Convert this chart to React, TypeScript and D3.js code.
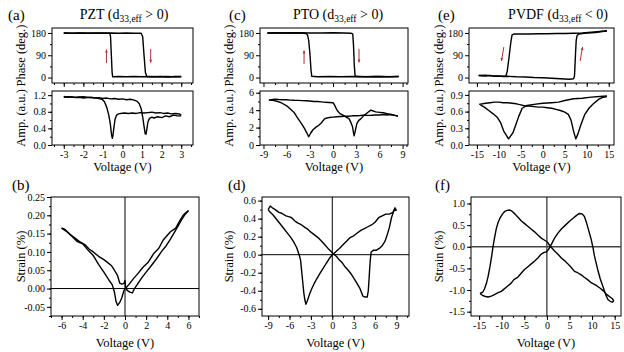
import { useEffect, useRef } from "react";
import * as d3 from "d3";

type Pt = [number, number];

// ---- PZT (a, b) ----
const pztPhaseFwd: Pt[] = [[-3,180],[-2.6,179],[-2.2,180],[-1.8,179],[-1.4,180],[-1,179],[-0.6,180],[-0.2,179],[0.2,180],[0.6,179],[0.95,179],[1.03,165],[1.1,90],[1.17,20],[1.24,4],[1.5,3],[1.9,4],[2.3,2],[2.7,4],[3,3]];
const pztPhaseRev: Pt[] = [[3,4],[2.6,3],[2.2,4],[1.8,3],[1.4,4],[1,3],[0.6,4],[0.2,3],[-0.2,4],[-0.5,3],[-0.53,20],[-0.57,90],[-0.61,165],[-0.65,179],[-1,180],[-1.5,179],[-2,180],[-2.5,179],[-3,180]];
const pztAmpFwd: Pt[] = [[-3,1.17],[-2.8,1.15],[-2.6,1.16],[-2.4,1.14],[-2.2,1.15],[-2,1.13],[-1.8,1.14],[-1.6,1.15],[-1.4,1.13],[-1.2,1.14],[-1,1.12],[-0.8,1.13],[-0.6,1.11],[-0.4,1.12],[-0.2,1.1],[0,1.11],[0.2,1.09],[0.4,1.1],[0.6,1.08],[0.75,1.05],[0.85,1.0],[0.95,0.88],[1.03,0.68],[1.1,0.45],[1.16,0.27],[1.2,0.26],[1.25,0.4],[1.3,0.56],[1.38,0.64],[1.5,0.67],[1.6,0.65],[1.8,0.68],[2,0.66],[2.2,0.7],[2.4,0.68],[2.6,0.72],[2.8,0.7],[3,0.7]];
const pztAmpRev: Pt[] = [[3,0.72],[2.9,0.75],[2.7,0.76],[2.5,0.75],[2.3,0.77],[2.1,0.76],[1.9,0.78],[1.7,0.77],[1.5,0.79],[1.3,0.78],[1.1,0.77],[0.9,0.78],[0.7,0.76],[0.5,0.77],[0.3,0.76],[0.1,0.77],[-0.1,0.76],[-0.2,0.75],[-0.3,0.72],[-0.38,0.62],[-0.44,0.42],[-0.49,0.22],[-0.52,0.16],[-0.56,0.25],[-0.62,0.5],[-0.7,0.72],[-0.8,0.9],[-0.92,1.04],[-1.05,1.1],[-1.3,1.13],[-1.6,1.14],[-2,1.16],[-2.4,1.15],[-2.8,1.16],[-3,1.15]];
const pztStrainInc: Pt[] = [[-6,0.165],[-5.7,0.162],[-5.2,0.148],[-4.7,0.137],[-4.3,0.128],[-3.8,0.12],[-3.4,0.108],[-3,0.1],[-2.5,0.088],[-2,0.079],[-1.6,0.07],[-1.3,0.063],[-1,0.05],[-0.7,0.035],[-0.5,0.015],[-0.3,0.012],[-0.1,0.014],[0,0.022],[0.05,0.005],[0.2,-0.005],[0.45,-0.01],[0.7,-0.012],[0.9,0],[1.2,0.013],[1.6,0.03],[2,0.045],[2.5,0.063],[3,0.082],[3.5,0.103],[3.9,0.117],[4.3,0.135],[4.7,0.155],[5,0.17],[5.4,0.19],[5.7,0.203],[6,0.213]];
const pztStrainDec: Pt[] = [[6,0.212],[5.8,0.208],[5.5,0.2],[5.2,0.186],[4.8,0.165],[4.3,0.155],[3.9,0.142],[3.6,0.132],[3.2,0.11],[2.7,0.095],[2.2,0.072],[1.7,0.058],[1.2,0.04],[0.8,0.027],[0.4,0.012],[0.1,0.002],[-0.1,-0.005],[-0.3,-0.025],[-0.5,-0.038],[-0.7,-0.046],[-0.85,-0.035],[-1,-0.01],[-1.2,0.01],[-1.5,0.022],[-2,0.045],[-2.5,0.066],[-3,0.09],[-3.5,0.105],[-4,0.122],[-4.5,0.128],[-5,0.142],[-5.5,0.155],[-6,0.165]];

// ---- PTO (c, d) ----
const ptoPhaseFwd: Pt[] = [[-8.5,180],[-7.5,181],[-6,180],[-4.5,181],[-3,180],[-1.5,180],[0,181],[1.5,180],[2.3,179],[2.55,176],[2.65,130],[2.75,50],[2.85,8],[3.1,4],[4.5,3],[6,4],[7.5,3],[8.5,4]];
const ptoPhaseRev: Pt[] = [[8.5,4],[7,3],[5.5,4],[4,3],[2.5,4],[1,3],[-0.5,4],[-2,3],[-2.75,5],[-2.85,30],[-3.0,100],[-3.15,150],[-3.3,172],[-3.5,178],[-4,180],[-5.5,181],[-7,180],[-8.5,180]];
const ptoAmpFwd: Pt[] = [[-8.3,5.15],[-8,5.2],[-7.5,5.25],[-7,5.22],[-6.5,5.2],[-6,5.2],[-5.5,5.15],[-5,5.13],[-4.5,5.12],[-4,5.1],[-3.5,5.08],[-3,5.05],[-2.5,5.0],[-2,5.0],[-1.5,4.95],[-1,4.9],[-0.5,4.88],[0,4.85],[0.16,4.65],[0.4,4.2],[0.6,3.9],[0.9,3.6],[1.23,3.45],[1.6,3.25],[2.09,3.0],[2.3,2.6],[2.52,2.1],[2.65,1.4],[2.73,1.05],[2.85,1.5],[3.08,2.45],[3.3,2.8],[3.59,3.0],[4,3.4],[4.45,3.7],[4.88,4.0],[5.2,3.9],[5.52,3.8],[6,3.75],[6.5,3.7],[7,3.6],[7.5,3.5],[8,3.4],[8.4,3.3]];
const ptoAmpRev: Pt[] = [[8.4,3.35],[8,3.4],[7.5,3.5],[7,3.45],[6.5,3.5],[6,3.45],[5.5,3.45],[5,3.42],[4.5,3.4],[4,3.42],[3.5,3.38],[3,3.35],[2.5,3.35],[2,3.3],[1.5,3.3],[1,3.28],[0.5,3.25],[0,3.2],[-0.5,3.15],[-0.8,3.1],[-1.1,3.0],[-1.5,2.55],[-1.8,2.3],[-2.2,2.05],[-2.6,1.75],[-2.9,1.35],[-3.15,0.95],[-3.4,1.4],[-3.7,1.9],[-4,2.35],[-4.35,2.8],[-4.7,3.25],[-5,3.7],[-5.5,4.1],[-6,4.5],[-6.7,4.85],[-7.2,5.0],[-7.6,5.1],[-8,5.15],[-8.3,5.15]];
const ptoStrainInc: Pt[] = [[-9,0.5],[-8.7,0.54],[-8.4,0.52],[-8,0.5],[-7.5,0.47],[-7.1,0.46],[-6.5,0.43],[-6,0.42],[-5.7,0.41],[-5.2,0.37],[-4.8,0.35],[-4.3,0.33],[-3.8,0.3],[-3.4,0.28],[-3,0.25],[-2.5,0.22],[-2,0.19],[-1.5,0.15],[-1.05,0.11],[-0.6,0.07],[-0.1,0.03],[0.3,0],[0.6,-0.02],[1,-0.06],[1.4,-0.09],[1.75,-0.13],[2.2,-0.17],[2.7,-0.22],[3.1,-0.27],[3.4,-0.31],[3.85,-0.37],[4.1,-0.42],[4.3,-0.46],[4.6,-0.47],[4.9,-0.47],[5.05,-0.4],[5.15,-0.28],[5.25,-0.15],[5.35,-0.04],[5.45,0.03],[5.8,0.05],[6.2,0.05],[6.6,0.07],[7,0.1],[7.4,0.15],[7.7,0.22],[8,0.3],[8.3,0.41],[8.6,0.48],[8.8,0.52],[9,0.49]];
const ptoStrainDec: Pt[] = [[9,0.49],[8.7,0.5],[8.5,0.47],[8,0.45],[7.5,0.45],[7,0.43],[6.5,0.41],[6,0.36],[5.5,0.33],[5,0.31],[4.5,0.29],[4,0.27],[3.5,0.24],[3,0.21],[2.5,0.19],[2,0.15],[1.5,0.11],[1,0.07],[0.6,0.04],[0.2,0.01],[0,0],[-0.4,-0.04],[-0.8,-0.09],[-1.2,-0.14],[-1.75,-0.21],[-2.2,-0.27],[-2.6,-0.33],[-2.9,-0.38],[-3.2,-0.44],[-3.5,-0.51],[-3.7,-0.55],[-3.85,-0.5],[-4,-0.42],[-4.15,-0.3],[-4.3,-0.18],[-4.45,-0.06],[-4.65,0],[-5,0.08],[-5.4,0.14],[-5.8,0.19],[-6.3,0.24],[-6.8,0.29],[-7.3,0.34],[-7.8,0.39],[-8.3,0.44],[-8.7,0.47],[-9,0.5]];

// ---- PVDF (e, f) ----
const pvdfPhaseFwd: Pt[] = [[-14.6,8],[-13,6],[-12,9],[-11,5],[-10,6],[-9,4],[-8,5],[-6,3],[-4,2],[-2,0],[0,-1],[2,-3],[4,-5],[6,-7],[7,-5],[7.2,5],[7.3,40],[7.45,100],[7.6,150],[7.8,170],[8.2,176],[9,178],[10,180],[11,181],[12,182],[13,185],[14,187],[14.6,188]];
const pvdfPhaseRev: Pt[] = [[14.6,189],[13,186],[11,183],[9,180],[7,179],[5,178],[3,178],[1,177],[-1,177],[-3,176],[-5,176],[-6.5,176],[-7,172],[-7.3,140],[-7.7,80],[-8.1,25],[-8.4,6],[-9,5],[-10,5],[-12,7],[-13,9],[-14.6,8]];
const pvdfAmpFwd: Pt[] = [[-14.5,0.73],[-13,0.75],[-12,0.76],[-11,0.77],[-10,0.77],[-9,0.76],[-8,0.76],[-7,0.75],[-6,0.74],[-5,0.72],[-4,0.7],[-3,0.7],[-2,0.69],[-1,0.68],[0,0.68],[1,0.67],[2,0.66],[3,0.64],[4,0.62],[5,0.59],[5.8,0.55],[6.4,0.45],[7,0.25],[7.5,0.11],[8,0.2],[8.6,0.35],[9.5,0.54],[10.5,0.66],[11.5,0.74],[12.7,0.82],[13.5,0.85],[14.6,0.87]];
const pvdfAmpRev: Pt[] = [[14.6,0.88],[13,0.87],[11,0.86],[9,0.84],[7,0.83],[5,0.8],[3.6,0.77],[2,0.76],[0,0.75],[-2,0.73],[-3.6,0.71],[-4.7,0.66],[-5.5,0.51],[-6.2,0.35],[-6.8,0.22],[-7.8,0.11],[-8.9,0.25],[-9.6,0.4],[-10.4,0.5],[-11.3,0.56],[-12.3,0.62],[-13.3,0.68],[-14.2,0.72]];
const pvdfStrainInc: Pt[] = [[-14.8,-1.08],[-14.3,-1.12],[-13.6,-1.15],[-13,-1.16],[-12.3,-1.14],[-11.5,-1.1],[-10.8,-1.06],[-10.1,-1.03],[-9.5,-0.98],[-8.8,-0.92],[-7.9,-0.84],[-7.3,-0.76],[-6.4,-0.7],[-5.6,-0.6],[-4.9,-0.52],[-4.2,-0.46],[-3.4,-0.39],[-2.7,-0.33],[-2,-0.26],[-1.25,-0.17],[-0.6,-0.13],[-0.15,-0.12],[0.3,-0.07],[0.6,-0.02],[1.1,0.08],[1.7,0.2],[2.4,0.31],[3.2,0.41],[4.1,0.5],[5,0.59],[5.8,0.66],[6.5,0.72],[7.2,0.77],[7.8,0.76],[8.3,0.7],[8.7,0.58],[9,0.47],[9.4,0.32],[9.8,0.17],[10.2,-0.02],[10.5,-0.2],[10.9,-0.38],[11.25,-0.53],[11.8,-0.74],[12.4,-0.92],[13,-1.1],[13.5,-1.22],[14,-1.26],[14.5,-1.28],[14.8,-1.25]];
const pvdfStrainDec: Pt[] = [[14.8,-1.25],[14.5,-1.2],[14,-1.16],[13.2,-1.1],[12.5,-1.02],[11.8,-0.96],[11,-0.9],[10.3,-0.86],[9.8,-0.83],[9,-0.76],[8.2,-0.7],[7.6,-0.65],[6.8,-0.6],[6.1,-0.57],[5.4,-0.48],[4.6,-0.39],[3.9,-0.32],[3.2,-0.26],[2.5,-0.18],[1.7,-0.1],[1.1,-0.03],[0.6,0.03],[0.1,0.11],[-0.5,0.15],[-1.25,0.2],[-2,0.27],[-2.8,0.35],[-3.5,0.41],[-4.3,0.48],[-5,0.54],[-5.7,0.6],[-6.4,0.68],[-7.1,0.76],[-7.6,0.81],[-8.2,0.85],[-8.8,0.84],[-9.3,0.82],[-9.8,0.76],[-10.4,0.66],[-10.8,0.56],[-11.2,0.42],[-11.6,0.2],[-11.9,0.02],[-12.2,-0.2],[-12.6,-0.46],[-13,-0.68],[-13.4,-0.85],[-13.8,-0.97],[-14.2,-1.05],[-14.8,-1.08]];

// switching arrows: [voltage, from phase, to phase]
const pztArrows: [number, number, number][] = [[-0.82, 58, 113], [1.44, 115, 60]];
const ptoArrows: [number, number, number][] = [[-3.75, 55, 109], [3.36, 116, 61]];
const pvdfArrows: [number, number, number][] = [[-9.15, 123, 67], [8.77, 67, 123]];

const titles = ["PZT", "PTO", "PVDF"];
const signs = ["> 0)", "> 0)", "< 0)"];

const FONT = "Liberation Serif, Times New Roman, serif";

const range = (a: number, b: number, s: number) => d3.range(a, b + s / 2, s).map((v) => +v.toFixed(4));

export default function App() {
  const svgRef = useRef<SVGSVGElement | null>(null);

  useEffect(() => {
    const svg = d3.select(svgRef.current);
    svg.selectAll("*").remove();
    svg.append("rect").attr("width", 624).attr("height", 352).attr("fill", "#fff");

    const line = (x: any, y: any) => d3.line<Pt>().x((d) => x(d[0])).y((d) => y(d[1]));

    function frame(x: any, y: any, o: any) {
      const [xl, xr] = x.range();
      const [yb, yt] = y.range();
      const g = svg.append("g");
      const add = (ax: any, t: string) => {
        const a = g.append("g").attr("transform", t).call(ax);
        a.select(".domain").remove();
        a.attr("font-family", null).attr("font-size", null).style("font-size", "10px");
        a.selectAll("line").attr("stroke", "#000");
        a.selectAll("text").attr("fill", "#000");
      };
      add(d3.axisBottom(x).tickValues(o.xMinor).tickSize(2).tickSizeOuter(0).tickFormat(() => ""), `translate(0,${yb})`);
      add(d3.axisBottom(x).tickValues(o.xMajor).tickSize(4).tickSizeOuter(0).tickPadding(1.5)
        .tickFormat(o.xFmt ? o.xFmt : () => ""), `translate(0,${yb})`);
      add(d3.axisLeft(y).tickValues(o.yMinor).tickSize(2).tickSizeOuter(0).tickFormat(() => ""), `translate(${xl},0)`);
      add(d3.axisLeft(y).tickValues(o.yMajor).tickSize(4).tickSizeOuter(0).tickPadding(2).tickFormat(o.yFmt), `translate(${xl},0)`);
      g.append("rect").attr("x", xl).attr("y", yt).attr("width", xr - xl).attr("height", yb - yt)
        .attr("fill", "none").attr("stroke", "#000").attr("stroke-width", 1);
      const cy = (yb + yt) / 2;
      g.append("text").attr("transform", `translate(${o.labelX},${cy}) rotate(-90)`)
        .attr("text-anchor", "middle").style("font-size", "12.5px").text(o.yLabel);
      if (o.xLabelY) {
        g.append("text").attr("x", (xl + xr) / 2).attr("y", o.xLabelY).attr("text-anchor", "middle")
          .style("font-size", "12.5px").text("Voltage (V)");
      }
    }

    function curves(x: any, y: any, sets: Pt[][]) {
      sets.forEach((s) => {
        svg.append("path").datum(s).attr("d", line(x, y)).attr("fill", "none")
          .attr("stroke", "#000").attr("stroke-width", 1.4).attr("stroke-linejoin", "round");
      });
    }

    function arrows(x: any, y: any, list: [number, number, number][], tilt: number) {
      list.forEach(([v, a, b]) => {
        const x1 = x(v) - (b > a ? tilt : -tilt), x2 = x(v) + (b > a ? tilt : -tilt);
        const y1 = y(a), y2 = y(b);
        const ang = Math.atan2(y2 - y1, x2 - x1);
        svg.append("line").attr("x1", x1).attr("y1", y1).attr("x2", x2).attr("y2", y2)
          .attr("stroke", "#b03030").attr("stroke-width", 1);
        const h = 3.2;
        const p = [[x2, y2], [x2 - h * Math.cos(ang - 0.45), y2 - h * Math.sin(ang - 0.45)],
          [x2 - h * Math.cos(ang + 0.45), y2 - h * Math.sin(ang + 0.45)]];
        svg.append("path").attr("d", "M" + p.map((q) => q.join(",")).join("L") + "Z").attr("fill", "#b03030");
      });
    }

    const phaseY: [number, number] = [83, 28];
    const ampY: [number, number] = [145, 91];
    const strainY: [number, number] = [316, 197];

    const cols = [
      {
        box: [52, 193], xd: [-3.6, 3.6], xMaj: range(-3, 3, 1), xMin: range(-3.5, 3.5, 0.5), fmt0: (d: number) => String(d),
        amp: [pztAmpFwd, pztAmpRev], ampD: [0, 1.3], ampMaj: range(0, 1.2, 0.4), ampMin: range(0, 1.2, 0.2), ampFmt: (d: number) => d.toFixed(1),
        phase: [pztPhaseFwd, pztPhaseRev], arrows: pztArrows, tilt: 0,
        bBox: [51, 199], bxd: [-7, 7], bxMaj: range(-6, 6, 2), bxMin: range(-7, 7, 1),
        strain: [pztStrainInc, pztStrainDec], sd: [-0.075, 0.25], sMaj: range(-0.05, 0.25, 0.05), sMin: range(-0.075, 0.25, 0.025), sFmt: (d: number) => d.toFixed(2),
        lx: 25, title: 124, letters: ["(a)", "(b)"], lxT: 8, lxB: 12,
      },
      {
        box: [260, 408], xd: [-9.45, 9.7], xMaj: range(-9, 9, 3), xMin: range(-7.5, 7.5, 3).concat([9.5]), fmt0: (d: number) => String(d),
        amp: [ptoAmpFwd, ptoAmpRev], ampD: [0, 6.2], ampMaj: range(0, 6, 2), ampMin: range(0, 6, 1), ampFmt: (d: number) => String(d),
        phase: [ptoPhaseFwd, ptoPhaseRev], arrows: ptoArrows, tilt: 0,
        bBox: [262, 409], bxd: [-9.86, 10.76], bxMaj: range(-9, 9, 3), bxMin: range(-9, 10.5, 1.5),
        strain: [ptoStrainInc, ptoStrainDec], sd: [-0.68, 0.64], sMaj: range(-0.6, 0.6, 0.2), sMin: range(-0.6, 0.6, 0.1), sFmt: (d: number) => d.toFixed(1),
        lx: 233, title: 338, letters: ["(c)", "(d)"], lxT: 229, lxB: 228,
      },
      {
        box: [469, 614], xd: [-16.8, 16.2], xMaj: range(-15, 15, 5), xMin: range(-15, 15, 2.5), fmt0: (d: number) => String(d),
        amp: [pvdfAmpFwd, pvdfAmpRev], ampD: [0, 0.97], ampMaj: range(0, 0.9, 0.3), ampMin: range(0, 0.9, 0.15), ampFmt: (d: number) => d.toFixed(1),
        phase: [pvdfPhaseFwd, pvdfPhaseRev], arrows: pvdfArrows, tilt: 1.2,
        bBox: [471, 621], bxd: [-16.8, 16.4], bxMaj: range(-15, 15, 5), bxMin: range(-15, 15, 2.5),
        strain: [pvdfStrainInc, pvdfStrainDec], sd: [-1.6, 1.15], sMaj: range(-1.5, 1, 0.5), sMin: range(-1.5, 1, 0.25), sFmt: (d: number) => d.toFixed(1),
        lx: 443, title: 558, letters: ["(e)", "(f)"], lxT: 438, lxB: 435,
      },
    ];

    cols.forEach((c, i) => {
      const x = d3.scaleLinear().domain(c.xd).range(c.box);
      const yP = d3.scaleLinear().domain([-22, 200]).range(phaseY);
      const yA = d3.scaleLinear().domain(c.ampD).range(ampY);
      frame(x, yP, { xMajor: c.xMaj, xMinor: c.xMin, yMajor: [0, 90, 180], yMinor: [45, 135], yFmt: (d: number) => String(d), labelX: c.lx, yLabel: "Phase (deg.)" });
      frame(x, yA, { xMajor: c.xMaj, xMinor: c.xMin, xFmt: c.fmt0, yMajor: c.ampMaj, yMinor: c.ampMin, yFmt: c.ampFmt, labelX: c.lx, yLabel: "Amp. (a.u.)", xLabelY: 171 });
      curves(x, yP, c.phase);
      curves(x, yA, c.amp);
      arrows(x, yP, c.arrows, c.tilt);

      const t = svg.append("text").attr("x", c.title).attr("y", 19).attr("text-anchor", "middle")
        .style("font-size", "14px");
      t.append("tspan").text(titles[i] + " (d");
      t.append("tspan").attr("dy", 3).style("font-size", "9.5px").text("33,eff");
      t.append("tspan").attr("dy", -3).text(" " + signs[i]);
      svg.append("text").attr("x", c.lxT).attr("y", 20).style("font-size", "15px").text(c.letters[0]);
      svg.append("text").attr("x", c.lxB).attr("y", 190).style("font-size", "15px").text(c.letters[1]);

      const bx = d3.scaleLinear().domain(c.bxd).range(c.bBox);
      const by = d3.scaleLinear().domain(c.sd).range(strainY);
      frame(bx, by, { xMajor: c.bxMaj, xMinor: c.bxMin, xFmt: (d: number) => String(d), yMajor: c.sMaj, yMinor: c.sMin, yFmt: c.sFmt, labelX: c.lx, yLabel: "Strain (%)", xLabelY: 347 });
      svg.append("line").attr("x1", bx(0)).attr("x2", bx(0)).attr("y1", strainY[1]).attr("y2", strainY[0]).attr("stroke", "#000").attr("stroke-width", 1);
      svg.append("line").attr("x1", c.bBox[0]).attr("x2", c.bBox[1]).attr("y1", by(0)).attr("y2", by(0))
        .attr("stroke", i === 2 ? "#444" : "#000").attr("stroke-width", i === 2 ? 1.6 : 1);
      curves(bx, by, c.strain);
    });
  }, []);

  return (
    <svg ref={svgRef} width={624} height={352}
      style={{ position: "absolute", left: 0, top: 0, fontFamily: FONT }} />
  );
}
